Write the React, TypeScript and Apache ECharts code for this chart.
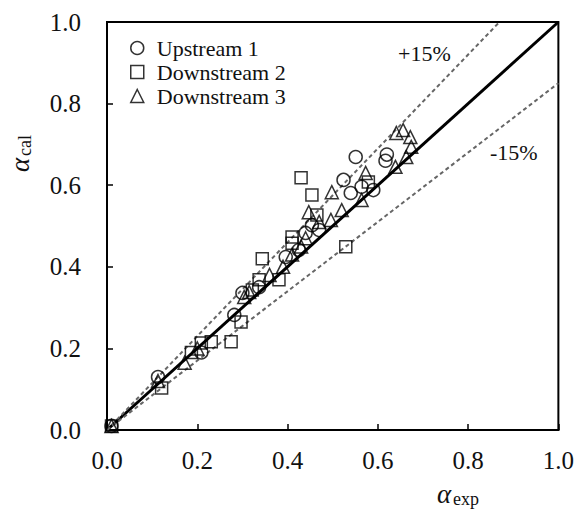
import React, { useEffect, useRef } from "react";
import * as echarts from "echarts";

// Measured vs. calculated alpha for three probe positions
const upstream1: [number, number][] = [
  [0.01, 0.01], [0.113, 0.13], [0.209, 0.19], [0.282, 0.282], [0.3, 0.336],
  [0.337, 0.35], [0.396, 0.424], [0.425, 0.441], [0.44, 0.483], [0.454, 0.502],
  [0.47, 0.49], [0.524, 0.613], [0.54, 0.581], [0.551, 0.669], [0.564, 0.596],
  [0.59, 0.588], [0.617, 0.66], [0.62, 0.675],
];
const downstream2: [number, number][] = [
  [0.01, 0.01], [0.121, 0.103], [0.187, 0.19], [0.209, 0.213], [0.231, 0.216],
  [0.275, 0.216], [0.297, 0.265], [0.322, 0.343], [0.337, 0.368], [0.344, 0.42],
  [0.381, 0.368], [0.41, 0.458], [0.41, 0.473], [0.43, 0.618], [0.454, 0.576],
  [0.465, 0.527], [0.529, 0.449], [0.579, 0.608],
];
const downstream3: [number, number][] = [
  [0.01, 0.01], [0.113, 0.12], [0.172, 0.165], [0.2, 0.2], [0.304, 0.326],
  [0.315, 0.338], [0.36, 0.38], [0.39, 0.4], [0.41, 0.43], [0.43, 0.45],
  [0.44, 0.47], [0.447, 0.534], [0.47, 0.51], [0.496, 0.515], [0.498, 0.583],
  [0.52, 0.539], [0.564, 0.564], [0.573, 0.63], [0.639, 0.645], [0.663, 0.669],
  [0.641, 0.728], [0.656, 0.735], [0.672, 0.718], [0.674, 0.694],
];

// Perfect agreement and ±15 % bands
const perfectLine: [number, number][] = [[0, 0], [1, 1]];
const plus15Line: [number, number][] = [[0, 0], [1 / 1.15, 1]];
const minus15Line: [number, number][] = [[0, 0], [1, 0.85]];

const seriesNames = ["Upstream 1", "Downstream 2", "Downstream 3"];
const seriesSymbols = ["circle", "rect", "triangle"];
const axisTicks = [0, 0.2, 0.4, 0.6, 0.8, 1.0];

const FONT = "'Liberation Serif', 'Times New Roman', serif";

export default function App() {
  const ref = useRef<HTMLDivElement>(null);

  useEffect(() => {
    if (!ref.current) return;
    const chart = echarts.init(ref.current, undefined, { renderer: "svg" });

    const markerStyle = {
      color: "rgba(255,255,255,0)",
      borderColor: "#000",
      borderWidth: 1.5,
    };

    const axisCommon = {
      type: "value" as const,
      min: axisTicks[0],
      max: axisTicks[axisTicks.length - 1],
      interval: 0.2,
      axisLine: { show: true, lineStyle: { color: "#000", width: 2 } },
      axisTick: { show: true, inside: true, length: 6, lineStyle: { color: "#000", width: 1.5 } },
      splitLine: { show: false },
      axisLabel: {
        color: "#111",
        fontFamily: FONT,
        fontSize: 25,
        formatter: (v: number) => v.toFixed(1),
      },
    };

    chart.setOption({
      animation: false,
      backgroundColor: "#fff",
      grid: {
        left: 107,
        right: 16,
        top: 22,
        bottom: 82,
        show: true,
        borderColor: "#000",
        borderWidth: 2,
      },
      xAxis: { ...axisCommon, axisLabel: { ...axisCommon.axisLabel, margin: 18 } },
      yAxis: { ...axisCommon, axisLabel: { ...axisCommon.axisLabel, margin: 26 } },
      legend: {
        data: seriesNames.map((name, i) => ({ name, icon: seriesSymbols[i] })),
        orient: "vertical",
        left: 125,
        top: 32,
        itemWidth: 13,
        itemHeight: 13,
        itemGap: 2,
        itemStyle: { color: "rgba(255,255,255,0)", borderColor: "#000", borderWidth: 1.5 },
        textStyle: { fontFamily: FONT, fontSize: 22, color: "#111", padding: [0, 0, 0, 8] },
      },
      graphic: [
        {
          type: "text",
          left: 398,
          top: 42,
          style: { text: "+15%", font: `22px ${FONT}`, fill: "#111" },
        },
        {
          type: "text",
          left: 490,
          top: 141,
          style: { text: "-15%", font: `22px ${FONT}`, fill: "#111" },
        },
        {
          type: "group",
          x: 437,
          y: 494,
          children: [
            { type: "text", x: 0, y: 0, style: { text: "α", font: `italic 27px ${FONT}`, fill: "#111", verticalAlign: "middle" } },
            { type: "text", x: 16, y: 5, style: { text: "exp", font: `18px ${FONT}`, fill: "#111", verticalAlign: "middle" } },
          ],
        },
        {
          type: "group",
          x: 20,
          y: 172,
          rotation: Math.PI / 2,
          children: [
            { type: "text", x: 0, y: 0, style: { text: "α", font: `italic 27px ${FONT}`, fill: "#111", verticalAlign: "middle" } },
            { type: "text", x: 16, y: 5, style: { text: "cal", font: `18px ${FONT}`, fill: "#111", verticalAlign: "middle" } },
          ],
        },
      ],
      series: [
        {
          type: "line",
          data: perfectLine,
          symbol: "none",
          silent: true,
          lineStyle: { color: "#000", width: 3 },
          z: 1,
        },
        {
          type: "line",
          data: plus15Line,
          symbol: "none",
          silent: true,
          lineStyle: { color: "#666", width: 2, type: [4, 3] },
          z: 1,
        },
        {
          type: "line",
          data: minus15Line,
          symbol: "none",
          silent: true,
          lineStyle: { color: "#666", width: 2, type: [4, 3] },
          z: 1,
        },
        ...seriesNames.map((name, i) => ({
          name,
          type: "scatter",
          data: [upstream1, downstream2, downstream3][i],
          symbol: seriesSymbols[i],
          symbolSize: i === 1 ? 12 : 13,
          itemStyle: markerStyle,
          z: 3,
        })),
      ],
    });

    return () => chart.dispose();
  }, []);

  return (
    <div
      ref={ref}
      style={{ position: "fixed", left: 0, top: 0, width: 577, height: 512 }}
    />
  );
}
